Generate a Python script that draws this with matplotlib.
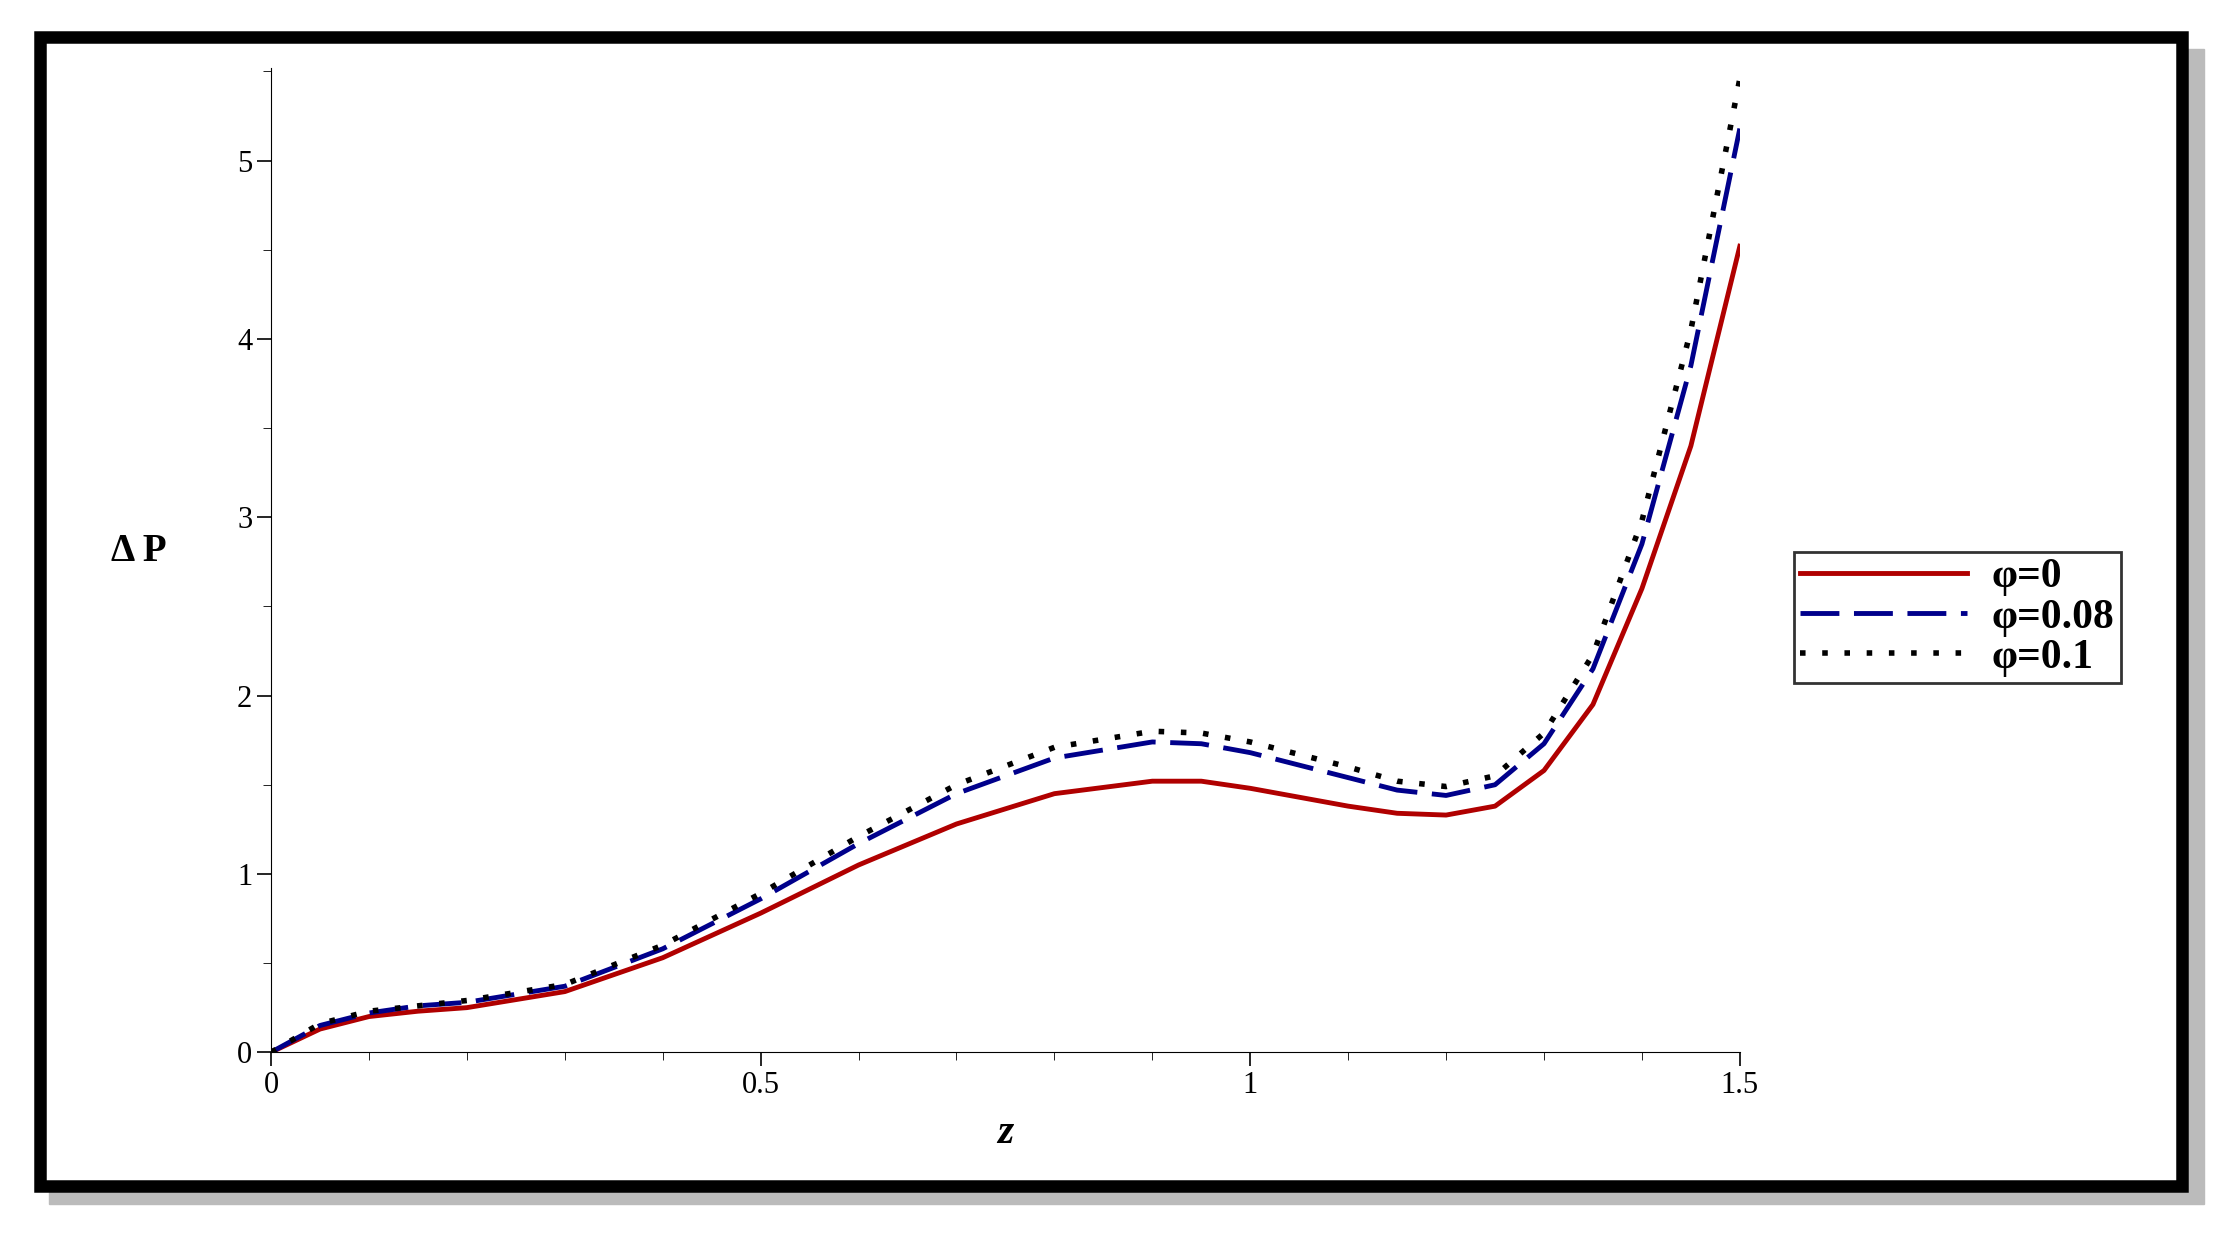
import matplotlib
matplotlib.use("Agg")
import matplotlib.pyplot as plt
from matplotlib.patches import Rectangle
import numpy as np

plt.rcParams['font.family'] = ['Liberation Serif', 'DejaVu Serif']

# values
z = [0, 0.05, 0.1, 0.15, 0.2, 0.3, 0.4, 0.5, 0.6, 0.7, 0.8, 0.9, 0.95, 1.0, 1.1, 1.15, 1.2, 1.25, 1.3, 1.35, 1.4, 1.45, 1.5]
dp_0 = [0, 0.13, 0.2, 0.23, 0.25, 0.34, 0.53, 0.78, 1.05, 1.28, 1.45, 1.52, 1.52, 1.48, 1.38, 1.34, 1.33, 1.38, 1.58, 1.95, 2.6, 3.4, 4.52]
dp_008 = [0, 0.15, 0.22, 0.26, 0.28, 0.37, 0.58, 0.86, 1.17, 1.45, 1.65, 1.74, 1.73, 1.68, 1.54, 1.47, 1.44, 1.5, 1.73, 2.15, 2.85, 3.85, 5.18]
dp_01 = [0, 0.16, 0.23, 0.26, 0.29, 0.38, 0.6, 0.89, 1.21, 1.5, 1.71, 1.8, 1.79, 1.74, 1.6, 1.52, 1.49, 1.55, 1.79, 2.23, 2.98, 4.05, 5.46]
labels = ['φ=0', 'φ=0.08', 'φ=0.1']

fig = plt.figure(figsize=(22.22, 12.35), dpi=100)
# shadow and frame
fig.add_artist(Rectangle((0.022, 0.025), 0.97, 0.935, transform=fig.transFigure, color='#bbbbbb', zorder=-2))
fig.add_artist(Rectangle((0.018, 0.04), 0.964, 0.93, transform=fig.transFigure, facecolor='white',
                         edgecolor='black', lw=9, zorder=-1))

ax = fig.add_axes([0.122, 0.148, 0.661, 0.797])
ax.patch.set_alpha(0)
ax.plot(z, dp_0, color='#b00000', lw=3.5, label=labels[0])
ax.plot(z, dp_008, color='#00008b', lw=3.5, dashes=(8, 3), label=labels[1])
ax.plot(z, dp_01, color='black', lw=4, linestyle=(0, (1, 3)), label=labels[2])

ax.set_xlim(0, 1.5)
ax.set_ylim(0, 5.52)
ax.set_xticks([0, 0.5, 1, 1.5])
ax.set_xticklabels(['0', '0.5', '1', '1.5'])
ax.set_yticks([0, 1, 2, 3, 4, 5])
ax.set_xticks(np.arange(0, 1.51, 0.1), minor=True)
ax.set_yticks(np.arange(0, 5.51, 0.5), minor=True)
ax.tick_params(labelsize=22, length=10, width=1.2)
ax.tick_params(which='minor', length=6)
for s in ['top', 'right']:
    ax.spines[s].set_visible(False)
ax.set_xlabel('z', fontsize=30, fontweight='bold', style='italic', labelpad=10)
ax.set_ylabel('Δ P', fontsize=28, fontweight='bold', rotation=0)
ax.yaxis.set_label_coords(-0.09, 0.49)

leg = fig.legend(loc='upper left', bbox_to_anchor=(0.798, 0.57), frameon=True,
                 fancybox=False, edgecolor='black', handlelength=4, handletextpad=0.6,
                 borderpad=0.15, labelspacing=0.05, prop={'weight': 'bold', 'size': 30})
leg.get_frame().set_linewidth(2)

fig.savefig('out.png')
